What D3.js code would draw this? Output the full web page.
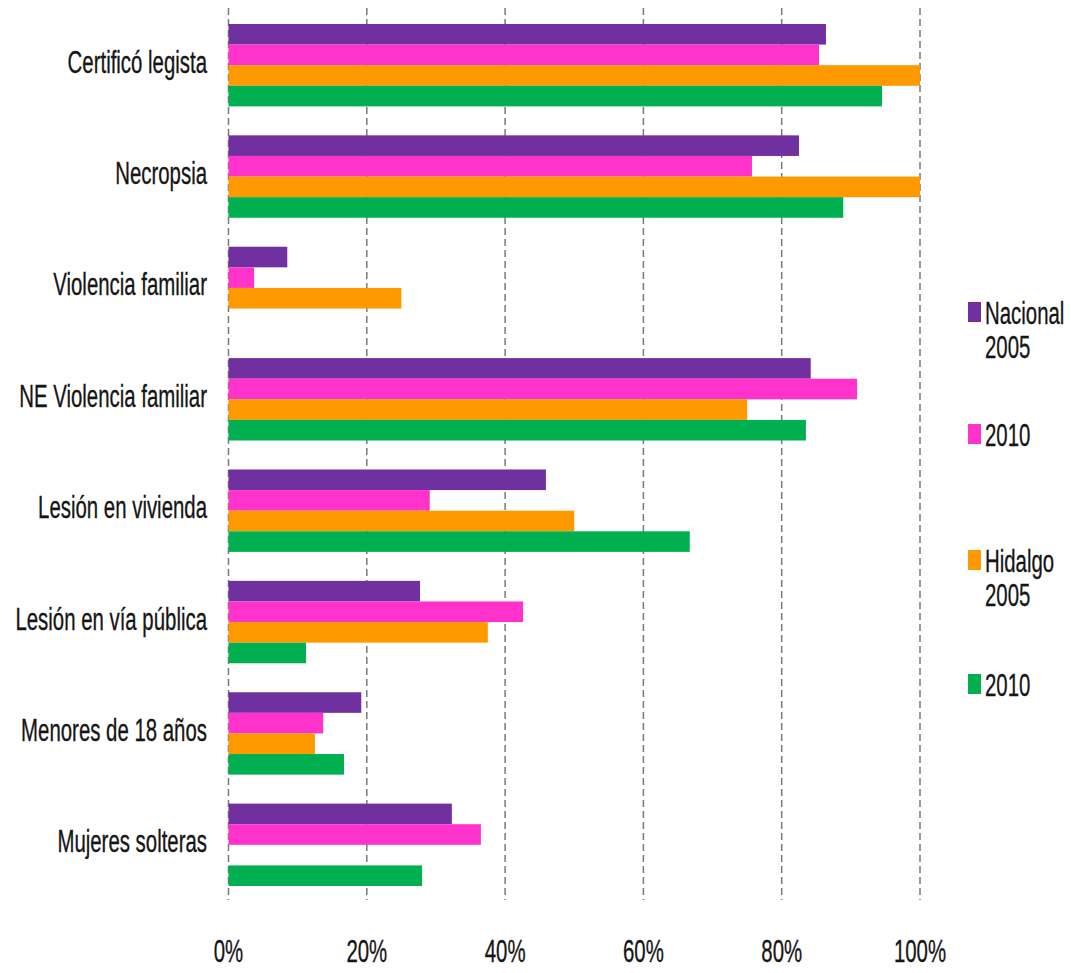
<!DOCTYPE html>
<html>
<head>
<meta charset="utf-8">
<script src="https://cdn.jsdelivr.net/npm/d3@7"></script>
<style>
  html, body { margin: 0; padding: 0; background: #fff; }
  text { font-family: "Liberation Sans", Arial, sans-serif; fill: #151515; stroke: #151515; stroke-width: 0.25px; }
</style>
</head>
<body>
<div id="chart"></div>
<script>
// Datos (porcentajes)
const categories = ["Certificó legista", "Necropsia", "Violencia familiar", "NE Violencia familiar",
  "Lesión en vivienda", "Lesión en vía pública", "Menores de 18 años", "Mujeres solteras"];
const seriesKeys = ["nac2005", "nac2010", "hgo2005", "hgo2010"];
const nacional2005 = [86.4, 82.5, 8.5, 84.2, 45.9, 27.7, 19.2, 32.3];
const nacional2010 = [85.4, 75.7, 3.7, 90.9, 29.1, 42.6, 13.7, 36.5];
const hidalgo2005 = [100, 100, 25, 75, 50, 37.5, 12.5, null];
const hidalgo2010 = [94.5, 88.9, null, 83.5, 66.7, 11.2, 16.7, 28.0];
const legendLabels = [["Nacional", "2005"], ["2010"], ["Hidalgo", "2005"], ["2010"]];
const xTicks = [0, 20, 40, 60, 80, 100];

const colors = ["#7030a0", "#ff33cc", "#ff9900", "#00b050"];
const seriesValues = [nacional2005, nacional2010, hidalgo2005, hidalgo2010];

const W = 1071, H = 973;
// el original tiene el texto estrecho y estirado en vertical
const sx = 0.85, sy = 1.27;

const svg = d3.select("#chart").append("svg")
  .attr("width", W).attr("height", H);

const x = d3.scaleLinear().domain([0, 100]).range([228.5, 920]);
const y = d3.scaleBand().domain(categories).range([9.5, 900.5])
  .paddingInner(0.26).paddingOuter(0.13);
const ySub = d3.scaleBand().domain(seriesKeys).range([0, y.bandwidth()]);

function stretchedText(sel, tx, ty) {
  return sel.attr("transform", `translate(${tx},${ty}) scale(${sx},${sy})`);
}

// Rejilla vertical punteada
svg.append("g").selectAll("line")
  .data(xTicks).enter().append("line")
  .attr("x1", d => x(d)).attr("x2", d => x(d))
  .attr("y1", 8).attr("y2", 900)
  .attr("stroke", "#7a7a7a")
  .attr("stroke-width", 1.5)
  .attr("stroke-dasharray", "7 4");

// Barras
const rows = categories.map((c, i) => ({
  cat: c,
  vals: seriesKeys.map((k, j) => ({ key: k, v: seriesValues[j][i], color: colors[j] }))
}));

const groups = svg.append("g").selectAll("g")
  .data(rows).enter().append("g")
  .attr("transform", d => `translate(0,${y(d.cat)})`);

groups.selectAll("rect")
  .data(d => d.vals.filter(v => v.v != null))
  .enter().append("rect")
  .attr("x", x(0))
  .attr("y", d => ySub(d.key))
  .attr("width", d => x(d.v) - x(0))
  .attr("height", ySub.bandwidth())
  .attr("fill", d => d.color);

// Etiquetas de categoría
svg.append("g").selectAll("text")
  .data(categories).enter().append("text")
  .attr("text-anchor", "end")
  .style("font-size", "24px")
  .each(function(d) {
    stretchedText(d3.select(this), 207, y(d) + y.bandwidth() / 2 + 7.5);
  })
  .text(d => d);

// Etiquetas del eje X
svg.append("g").selectAll("text")
  .data(xTicks).enter().append("text")
  .attr("text-anchor", "middle")
  .style("font-size", "24px")
  .each(function(d) {
    stretchedText(d3.select(this), x(d), 962);
  })
  .text(d => d + "%");

// Leyenda
const legendY = [324, 446, 572, 696];
const legend = svg.append("g").selectAll("g")
  .data(legendLabels).enter().append("g")
  .attr("transform", (d, i) => `translate(968,${legendY[i]})`);

legend.append("rect")
  .attr("x", 0).attr("y", -22)
  .attr("width", 13).attr("height", 20)
  .attr("fill", (d, i) => colors[i]);

legend.each(function(lines) {
  const g = d3.select(this);
  lines.forEach((t, k) => {
    g.append("text")
      .style("font-size", "24px")
      .call(s => stretchedText(s, 17, k * 34))
      .text(t);
  });
});
</script>
</body>
</html>
